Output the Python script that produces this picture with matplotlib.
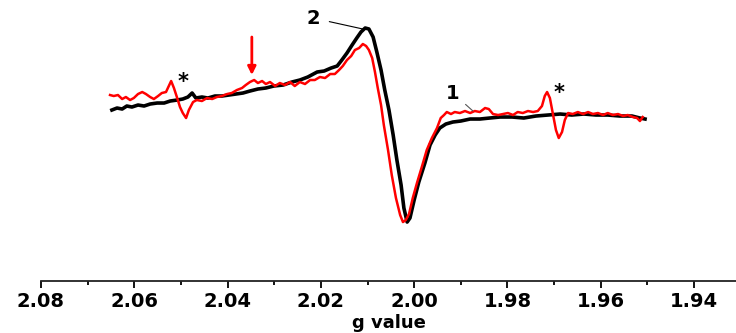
import matplotlib.pyplot as plt
from matplotlib.ticker import MultipleLocator

# EPR spectra, g value vs signal (arbitrary units)
# spectrum 2 (black)
g_black = [2.0648, 2.0637, 2.0626, 2.0616, 2.0605, 2.0592, 2.0579, 2.0566, 2.0551, 2.0536,
           2.0523, 2.0508, 2.0496, 2.0485, 2.0476, 2.0468, 2.0455, 2.0442, 2.0427, 2.0412,
           2.0397, 2.0382, 2.0367, 2.0352, 2.0335, 2.0318, 2.0301, 2.0281, 2.0262, 2.0245,
           2.0228, 2.0208, 2.0193, 2.0178, 2.0165, 2.0155, 2.0144, 2.0133, 2.0123, 2.0114,
           2.0105, 2.0097, 2.0088, 2.0080, 2.0071, 2.0063, 2.0054, 2.0045, 2.0037, 2.0028,
           2.0022, 2.0015, 2.0009, 2.0000, 1.9990, 1.9977, 1.9966, 1.9955, 1.9945, 1.9932,
           1.9917, 1.9900, 1.9880, 1.9859, 1.9838, 1.9816, 1.9790, 1.9765, 1.9739, 1.9713,
           1.9687, 1.9662, 1.9636, 1.9610, 1.9585, 1.9559, 1.9533, 1.9516, 1.9505]
s_black = [7, 9, 8, 11, 10, 12, 11, 13, 14, 14,
           16, 17, 18, 20, 24, 19, 20, 19, 21, 21,
           22, 23, 24, 26, 28, 29, 31, 32, 35, 37,
           40, 45, 46, 49, 51, 57, 64, 72, 79, 85,
           89, 88, 80, 65, 47, 27, 7, -18, -43, -68,
           -91, -105, -101, -83, -65, -46, -28, -18, -11, -7,
           -5, -4, -2, -2, -1, 0, 0, -1, 1, 2,
           3, 2, 3, 2, 2, 1, 1, -1, -2]

# spectrum 1 (red)
g_red = [2.0652, 2.0644, 2.0635, 2.0626, 2.0618, 2.0609, 2.0601, 2.0592, 2.0583, 2.0575,
         2.0566, 2.0558, 2.0549, 2.0541, 2.0532, 2.0526, 2.0521, 2.0515, 2.0508, 2.0502,
         2.0496, 2.0489, 2.0483, 2.0474, 2.0466, 2.0455, 2.0444, 2.0433, 2.0423, 2.0412,
         2.0401, 2.0391, 2.0380, 2.0369, 2.0361, 2.0352, 2.0343, 2.0335, 2.0326, 2.0318,
         2.0309, 2.0298, 2.0288, 2.0277, 2.0266, 2.0256, 2.0245, 2.0234, 2.0223, 2.0213,
         2.0202, 2.0191, 2.0180, 2.0170, 2.0161, 2.0153, 2.0144, 2.0135, 2.0127, 2.0118,
         2.0110, 2.0103, 2.0097, 2.0090, 2.0084, 2.0078, 2.0071, 2.0065, 2.0056, 2.0048,
         2.0039, 2.0030, 2.0024, 2.0018, 2.0011, 2.0003, 1.9994, 1.9983, 1.9973, 1.9962,
         1.9951, 1.9943, 1.9936, 1.9930, 1.9921, 1.9913, 1.9902, 1.9891, 1.9880, 1.9870,
         1.9859, 1.9848, 1.9840, 1.9831, 1.9820, 1.9810, 1.9799, 1.9788, 1.9778, 1.9767,
         1.9756, 1.9745, 1.9735, 1.9726, 1.9720, 1.9715, 1.9709, 1.9702, 1.9696, 1.9690,
         1.9683, 1.9677, 1.9670, 1.9660, 1.9649, 1.9638, 1.9627, 1.9617, 1.9606, 1.9595,
         1.9585, 1.9574, 1.9563, 1.9552, 1.9542, 1.9531, 1.9522, 1.9516, 1.9510]
s_red = [22, 21, 22, 18, 20, 17, 19, 23, 25, 23,
         20, 18, 21, 24, 25, 31, 36, 29, 19, 10,
         4, -1, 7, 15, 17, 16, 19, 18, 20, 21,
         23, 24, 27, 29, 32, 35, 37, 34, 36, 33,
         35, 31, 34, 32, 35, 31, 35, 33, 37, 37,
         40, 39, 43, 43, 47, 51, 57, 61, 67, 69,
         73, 71, 67, 59, 45, 29, 12, -8, -33, -58,
         -81, -98, -105, -103, -97, -81, -66, -49, -33, -21,
         -11, -1, 2, 5, 3, 5, 4, 6, 4, 6,
         5, 9, 8, 3, 2, 3, 4, 2, 5, 4,
         6, 5, 6, 11, 21, 25, 19, 2, -13, -21,
         -15, -3, 4, 3, 5, 3, 5, 3, 4, 2,
         4, 2, 3, 1, 2, 0, -1, -4, 0]

xticks = [2.08, 2.06, 2.04, 2.02, 2.00, 1.98, 1.96, 1.94]

fig = plt.figure(figsize=(7.36, 3.33), dpi=100)
ax = fig.add_axes([0.0557, 0.156, 0.9443, 0.844])

ax.plot(g_black, s_black, color="black", lw=2.6, zorder=2)
ax.plot(g_red, s_red, color="#ff0000", lw=1.8, zorder=3)

# labels for the two traces
ax.annotate("2", xy=(2.0110, 88), xytext=(2.0217, 99), fontsize=14, fontweight="bold",
            ha="center", va="center",
            arrowprops=dict(arrowstyle="-", color="black", lw=0.8, shrinkA=5, shrinkB=0))
ax.annotate("1", xy=(1.9874, 6), xytext=(1.9917, 24), fontsize=14, fontweight="bold",
            ha="center", va="center",
            arrowprops=dict(arrowstyle="-", color="#555555", lw=0.8, shrinkA=3, shrinkB=0))

# impurity lines
ax.text(2.0496, 35, "*", fontsize=15, fontweight="bold", ha="center", va="center")
ax.text(1.9690, 24, "*", fontsize=15, fontweight="bold", ha="center", va="center")

# red arrow
ax.annotate("", xy=(2.0348, 42), xytext=(2.0348, 80),
            arrowprops=dict(arrowstyle="-|>", color="#ff0000", lw=2,
                            mutation_scale=12, shrinkA=0, shrinkB=0))

ax.set_xlim(2.08, 1.9310)
ax.set_ylim(-164, 117)

ax.set_xticks(xticks)
ax.set_xticklabels([f"{t:.2f}" for t in xticks])
ax.xaxis.set_minor_locator(MultipleLocator(0.01))
ax.tick_params(axis="x", which="major", direction="out", length=5, width=1.3, pad=3,
               labelsize=14)
ax.tick_params(axis="x", which="minor", direction="out", length=3, width=1.3)
for lab in ax.get_xticklabels():
    lab.set_fontweight("bold")

ax.set_yticks([])
for side in ["left", "right", "top"]:
    ax.spines[side].set_visible(False)
ax.spines["bottom"].set_linewidth(1.3)
ax.spines["bottom"].set_color("#222222")

ax.set_xlabel("g value", fontsize=13, fontweight="bold", labelpad=2)

fig.savefig("out.png", dpi=100)
